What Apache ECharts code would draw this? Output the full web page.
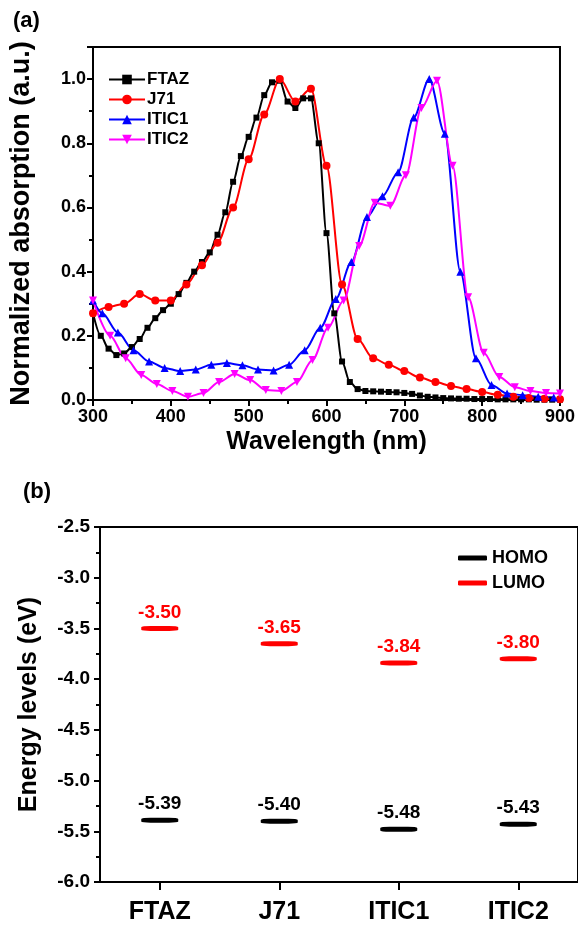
<!DOCTYPE html>
<html>
<head>
<meta charset="utf-8">
<script src="https://cdn.jsdelivr.net/npm/echarts@6/dist/echarts.min.js"></script>
<style>
html, body { margin: 0; padding: 0; background: #fff; }
#chart { width: 578px; height: 925px; }
</style>
</head>
<body>
<div id="chart"></div>
<script>
// (a) absorption spectra, wavelength in nm
const ftazX = [300,310,320,330,340,350,360,370,380,390,400,410,420,430,440,450,460,470,480,490,500,510,520,530,540,550,560,570,580,590,600,610,620,630,640,650,660,670,680,690,700,710,720,730,740,750,760,770,780,790,800,810,820,830,840,850,860,870,880,890,900];
const ftazY = [0.27,0.20,0.16,0.14,0.145,0.165,0.19,0.225,0.255,0.28,0.30,0.33,0.365,0.40,0.43,0.46,0.515,0.585,0.68,0.76,0.82,0.88,0.95,0.99,0.995,0.93,0.91,0.94,0.94,0.80,0.52,0.27,0.12,0.056,0.034,0.028,0.027,0.026,0.025,0.024,0.022,0.019,0.014,0.010,0.008,0.006,0.005,0.004,0.004,0.003,0.003,0.003,0.002,0.002,0.002,0.002,0.002,0.001,0.001,0.001,0.001];

const j71X = [300,320,340,360,380,400,420,440,460,480,500,520,540,560,580,600,620,640,660,680,700,720,740,760,780,800,820,840,860,880,900];
const j71Y = [0.27,0.29,0.30,0.33,0.31,0.31,0.36,0.42,0.49,0.60,0.75,0.89,1.00,0.93,0.97,0.73,0.36,0.19,0.13,0.11,0.09,0.07,0.056,0.044,0.034,0.025,0.016,0.010,0.006,0.004,0.002];

const itic1X = [300,312,332,352,372,392,412,432,452,472,492,512,532,552,572,592,612,632,652,672,692,712,732,752,772,792,812,832,852,872,892];
const itic1Y = [0.31,0.27,0.21,0.155,0.12,0.10,0.09,0.095,0.11,0.115,0.108,0.095,0.092,0.11,0.155,0.225,0.315,0.43,0.57,0.635,0.71,0.88,1.00,0.83,0.40,0.13,0.047,0.020,0.015,0.010,0.008];

const itic2X = [300,322,342,362,382,402,422,442,462,482,502,522,542,562,582,602,622,642,662,682,702,722,742,762,782,802,822,842,862,882,900];
const itic2Y = [0.31,0.20,0.13,0.078,0.05,0.028,0.01,0.022,0.056,0.081,0.062,0.031,0.028,0.056,0.125,0.225,0.31,0.48,0.615,0.605,0.70,0.91,0.995,0.73,0.32,0.147,0.072,0.04,0.028,0.022,0.02];

// (b) energy levels, eV
const materials = ['FTAZ', 'J71', 'ITIC1', 'ITIC2'];
const homo = [-5.39, -5.40, -5.48, -5.43];
const lumo = [-3.50, -3.65, -3.84, -3.80];

const FONT = 'Liberation Sans';

function pairs(xs, ys) {
  return xs.map(function (x, i) { return [x, ys[i]]; });
}

function spectrum(name, xs, ys, color, symbol, size, rotate) {
  return {
    name: name,
    type: 'line',
    xAxisIndex: 0,
    yAxisIndex: 0,
    data: pairs(xs, ys),
    smooth: 0.3,
    smoothMonotone: 'x',
    symbol: symbol,
    symbolSize: size,
    symbolRotate: rotate || 0,
    showAllSymbol: true,
    color: color,
    lineStyle: { color: color, width: 2 },
    itemStyle: { color: color },
    emphasis: { disabled: true }
  };
}

function levels(name, values, color) {
  return {
    name: name,
    type: 'scatter',
    xAxisIndex: 1,
    yAxisIndex: 1,
    data: values,
    symbol: 'roundRect',
    symbolSize: [37, 5],
    color: color,
    itemStyle: { color: color, opacity: 1 },
    label: {
      show: true,
      position: 'top',
      distance: 4,
      color: color,
      opacity: 1,
      fontFamily: FONT,
      fontWeight: 'bold',
      fontSize: 19,
      formatter: function (p) { return Number(p.value).toFixed(2); }
    },
    emphasis: { disabled: true }
  };
}

const axisLine = { lineStyle: { color: '#000', width: 2 } };
const tickStyle = { color: '#000', width: 2 };
const labelStyle = { color: '#000', fontFamily: FONT, fontWeight: 'bold', fontSize: 18 };
const nameStyle = { color: '#000', fontFamily: FONT, fontWeight: 'bold', fontSize: 25 };

const chart = echarts.init(document.getElementById('chart'));
chart.setOption({
  animation: false,
  backgroundColor: '#fff',
  title: [
    { text: '(a)', left: 8, top: 5, textStyle: { color: '#000', fontFamily: FONT, fontWeight: 'bold', fontSize: 22 } },
    { text: '(b)', left: 18, top: 476, textStyle: { color: '#000', fontFamily: FONT, fontWeight: 'bold', fontSize: 22 } }
  ],
  legend: [
    {
      data: ['FTAZ', 'J71', 'ITIC1', 'ITIC2'],
      orient: 'vertical',
      left: 103,
      top: 66,
      itemWidth: 36,
      itemHeight: 12,
      itemGap: 3,
      selectedMode: false,
      textStyle: { color: '#000', fontFamily: FONT, fontWeight: 'bold', fontSize: 17, padding: [0, 0, 0, -3] }
    },
    {
      data: ['HOMO', 'LUMO'],
      orient: 'vertical',
      left: 453,
      top: 544,
      icon: 'roundRect',
      itemWidth: 29,
      itemHeight: 5,
      itemGap: 7,
      selectedMode: false,
      textStyle: { color: '#000', fontFamily: FONT, fontWeight: 'bold', fontSize: 18 }
    }
  ],
  grid: [
    { left: 90, top: 47, width: 475, height: 353, show: true, borderColor: '#000', borderWidth: 2 },
    { left: 100, top: 527, width: 480, height: 356, show: true, borderColor: '#000', borderWidth: 2 }
  ],
  xAxis: [
    {
      gridIndex: 0,
      type: 'value',
      min: 300,
      max: 900,
      interval: 100,
      name: 'Wavelength (nm)',
      nameLocation: 'middle',
      nameGap: 30,
      nameTextStyle: nameStyle,
      axisLine: axisLine,
      axisTick: { show: true, length: 6, lineStyle: tickStyle },
      minorTick: { show: true, splitNumber: 2, length: 4, lineStyle: tickStyle },
      axisLabel: Object.assign({ margin: 8 }, labelStyle),
      splitLine: { show: false }
    },
    {
      gridIndex: 1,
      type: 'category',
      data: materials,
      axisLine: axisLine,
      axisTick: { show: true, alignWithLabel: true, length: 8, lineStyle: tickStyle },
      axisLabel: Object.assign({}, labelStyle, { fontSize: 25, margin: 18 }),
      splitLine: { show: false }
    }
  ],
  yAxis: [
    {
      gridIndex: 0,
      type: 'value',
      min: 0,
      max: 1.1,
      interval: 0.2,
      name: 'Normalized absorption (a.u.)',
      nameLocation: 'middle',
      nameGap: 58,
      nameTextStyle: Object.assign({}, nameStyle, { fontSize: 27 }),
      axisLine: axisLine,
      axisTick: { show: true, length: 6, lineStyle: tickStyle },
      minorTick: { show: true, splitNumber: 2, length: 4, lineStyle: tickStyle },
      axisLabel: Object.assign({
        margin: 7,
        formatter: function (v) { return v > 1.05 ? '' : v.toFixed(1); }
      }, labelStyle),
      splitLine: { show: false }
    },
    {
      gridIndex: 1,
      type: 'value',
      min: -6,
      max: -2.5,
      interval: 0.5,
      name: 'Energy levels (eV)',
      nameLocation: 'middle',
      nameGap: 58,
      nameTextStyle: nameStyle,
      axisLine: axisLine,
      axisTick: { show: true, length: 6, lineStyle: tickStyle },
      minorTick: { show: true, splitNumber: 2, length: 4, lineStyle: tickStyle },
      axisLabel: Object.assign({
        margin: 10,
        formatter: function (v) { return v.toFixed(1); }
      }, labelStyle, { fontSize: 19 }),
      splitLine: { show: false }
    }
  ],
  series: [
    spectrum('FTAZ', ftazX, ftazY, '#000000', 'rect', 6),
    spectrum('J71', j71X, j71Y, '#ff0000', 'circle', 8),
    spectrum('ITIC1', itic1X, itic1Y, '#0000ff', 'triangle', 8),
    spectrum('ITIC2', itic2X, itic2Y, '#ff00ff', 'triangle', 8, 180),
    levels('HOMO', homo, '#000000'),
    levels('LUMO', lumo, '#ff0000')
  ]
});
</script>
</body>
</html>
